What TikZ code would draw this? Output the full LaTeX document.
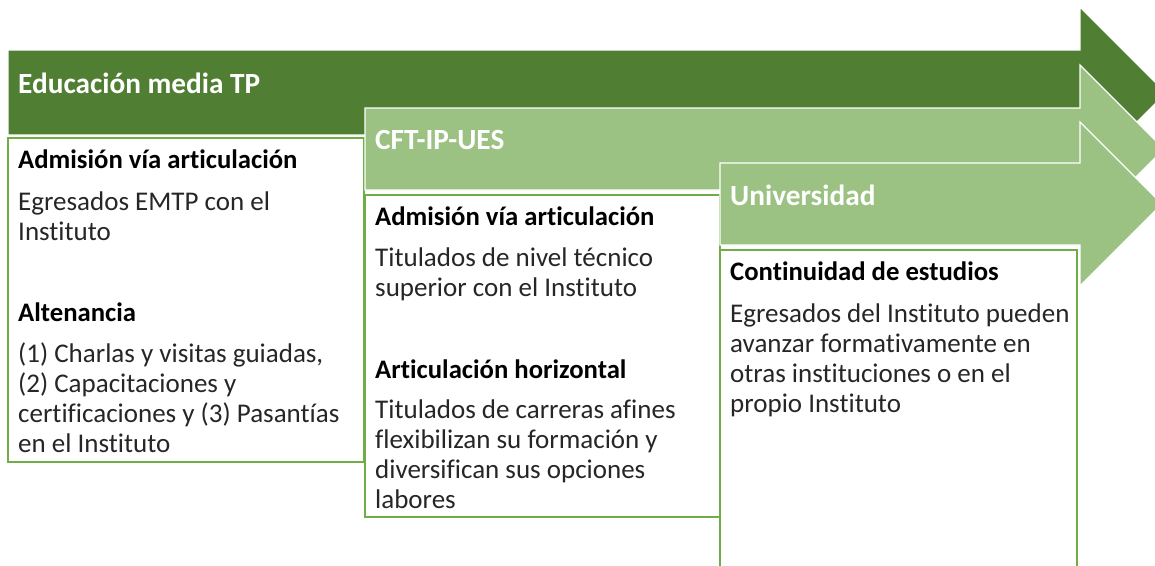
\documentclass[tikz,border=0pt]{standalone}
\usepackage{fontspec}
\setmainfont{Carlito}[Ligatures={NoCommon}]
\definecolor{darkg}{HTML}{507E32}
\definecolor{lightg}{HTML}{9BC283}
\definecolor{boxg}{HTML}{70AD47}
\definecolor{bodyt}{HTML}{262626}
\tikzset{
  arrowshape/.style={draw=white,line width=1.2pt,line join=miter},
  itembox/.style={fill=white,draw=boxg,line width=2pt},
  title/.style={anchor=base west,inner sep=0pt,text=white,font=\fontsize{29.3}{30}\selectfont\bfseries},
  head/.style={anchor=base west,inner sep=0pt,text=black,font=\fontsize{26.7}{30}\selectfont\bfseries},
  para/.style={anchor=base west,inner sep=0pt,text=bodyt,align=left,font=\fontsize{27}{30}\selectfont},
}
\begin{document}
\begin{tikzpicture}[x=1pt,y=-1pt]
\useasboundingbox (0,0) rectangle (1155,565);
\clip (0,0) rectangle (1155,565);
% arrow 1
\path[arrowshape,fill=darkg] (8,50) -- (1080,50) -- (1080,7) -- (1166,93) -- (1080,179) -- (1080,135) -- (8,135) -- cycle;
\path[itembox] (8,138) rectangle (364,462);
% arrow 2
\path[arrowshape,fill=lightg] (365,108) -- (1080,108) -- (1080,65) -- (1164,149) -- (1080,233) -- (1080,190) -- (365,190) -- cycle;
\path[itembox] (365,195) rectangle (720,517);
% arrow 3
\path[arrowshape,fill=lightg] (720,163) -- (1080,163) -- (1080,122) -- (1162,204) -- (1080,286) -- (1080,245) -- (720,245) -- cycle;
\path[itembox] (720,250) rectangle (1077,580);
% titles (baseline positions)
\node[title] (t1) at (18,93) {Educación media TP};
\node[title] (t2) at (375,149) {CFT-IP-UES};
\node[title] (t3) at (730,205) {Universidad};
% box 1 (multi-line nodes anchored at last baseline)
\node[head] (h11) at (18,168) {Admisión vía articulación};
\node[para] (p11) at (18,240) {Egresados EMTP con el\\Instituto};
\node[head] (h12) at (18,321) {Altenancia};
\node[para] (p12) at (18,452) {(1) Charlas y visitas guiadas,\\(2) Capacitaciones y\\certificaciones y (3) Pasantías\\en el Instituto};
% box 2
\node[head] (h21) at (375,225) {Admisión vía articulación};
\node[para] (p21) at (375,296) {Titulados de nivel técnico\\superior con el Instituto};
\node[head] (h22) at (375,378) {Articulación horizontal};
\node[para] (p22) at (375,508) {Titulados de carreras afines\\flexibilizan su formación y\\diversifican sus opciones\\labores};
% box 3
\node[head] (h31) at (730,280) {Continuidad de estudios};
\node[para] (p31) at (730,412) {Egresados del Instituto pueden\\avanzar formativamente en\\otras instituciones o en el\\propio Instituto};
\end{tikzpicture}
\end{document}
